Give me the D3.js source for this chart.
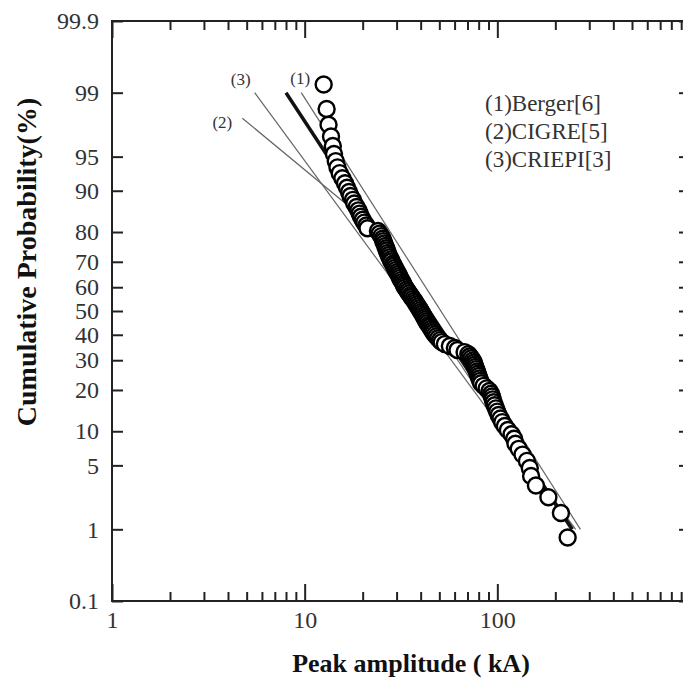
<!DOCTYPE html>
<html>
<head>
<meta charset="utf-8">
<script src="https://cdn.jsdelivr.net/npm/d3@7"></script>
<style>
  html, body { margin: 0; padding: 0; background: #fff; overflow: hidden; }
  svg { display: block; }
</style>
</head>
<body>
<svg id="chart" width="683" height="684"></svg>
<script>
// observed peak amplitudes (kA) and their cumulative probability (%)
const amplitude = [
  12.55, 13.0, 13.3, 13.7, 14.0, 14.2, 14.5, 14.8, 15.2, 15.7,
  16.2, 16.6, 17.0, 17.3, 17.8, 18.1, 18.6, 19.0, 19.3, 19.6,
  20.0, 20.4, 20.9, 21.2, 24.0, 24.5, 25.0, 25.4, 25.6, 25.9,
  26.2, 26.5, 26.7, 27.0, 27.3, 27.6, 28.0, 28.2, 28.7, 29.0,
  29.4, 29.8, 30.2, 30.6, 31.0, 31.3, 31.7, 32.1, 32.5, 32.8,
  33.2, 33.8, 34.3, 34.8, 35.4, 35.9, 36.5, 37.1, 37.6, 38.1,
  38.7, 39.2, 39.8, 40.3, 40.8, 41.3, 41.8, 42.3, 42.8, 43.4,
  44.1, 44.7, 45.3, 46.0, 46.6, 47.4, 48.3, 49.3, 50.4, 51.4,
  53.4, 56.7, 60.2, 62.1, 67.6, 70.7, 72.0, 73.3, 74.6, 75.5,
  76.2, 76.9, 77.6, 78.4, 79.1, 80.0, 80.7, 81.5, 82.5, 84.9,
  88.0, 91.0, 92.8, 93.8, 94.6, 95.6, 96.9, 98.4, 99.9, 101.6,
  103.9, 106.1, 109.4, 113.4, 118.6, 122.3, 124.2, 129.1, 135.1, 142.4,
  147.4, 149.7, 158.6, 184.1, 213.8, 231.7
]
const probability = [
  99.21, 98.43, 97.64, 96.85, 96.06, 95.28, 94.49, 93.70, 92.91, 92.13,
  91.34, 90.55, 89.76, 88.98, 88.19, 87.40, 86.61, 85.83, 85.04, 84.25,
  83.46, 82.68, 81.89, 81.10, 80.31, 79.53, 78.74, 77.95, 77.17, 76.38,
  75.59, 74.80, 74.02, 73.23, 72.44, 71.65, 70.87, 70.08, 69.29, 68.50,
  67.72, 66.93, 66.14, 65.35, 64.57, 63.78, 62.99, 62.20, 61.42, 60.63,
  59.84, 59.06, 58.27, 57.48, 56.69, 55.91, 55.12, 54.33, 53.54, 52.76,
  51.97, 51.18, 50.39, 49.61, 48.82, 48.03, 47.24, 46.46, 45.67, 44.88,
  44.09, 43.31, 42.52, 41.73, 40.94, 40.16, 39.37, 38.58, 37.80, 37.01,
  36.22, 35.43, 34.65, 33.86, 33.07, 32.28, 31.50, 30.71, 29.92, 29.13,
  28.35, 27.56, 26.77, 25.98, 25.20, 24.41, 23.62, 22.83, 22.05, 21.26,
  20.47, 19.69, 18.90, 18.11, 17.32, 16.54, 15.75, 14.96, 14.17, 13.39,
  12.60, 11.81, 11.02, 10.24, 9.45, 8.66, 7.87, 7.09, 6.30, 5.51,
  4.72, 3.94, 3.15, 2.36, 1.57, 0.79
]

// reference distributions, as (kA, %) vertices
const fitAmp = [8.0, 245]
const fitProb = [99, 1]
const bergerAmp = [9.6, 270]
const bergerProb = [99, 1]
const cigreAmp = [4.75, 20, 240]
const cigreProb = [98, 84, 1]
const criepiAmp = [5.5, 255]
const criepiProb = [99, 1]

const legendLabels = ['(1)Berger[6]', '(2)CIGRE[5]', '(3)CRIEPI[3]']
const yTicks = [0.1, 1, 5, 10, 20, 30, 40, 50, 60, 70, 80, 90, 95, 99, 99.9]
const xMajor = [1, 10, 100, 1000]
const xMinor = [2,3,4,5,6,7,8,9,20,30,40,50,60,70,80,90,200,300,400,500,600,700,800,900]

// inverse normal cdf (Acklam)
function probit(p) {
  const a = [-39.69683028665376, 220.9460984245205, -275.9285104469687, 138.3577518672690, -30.66479806614716, 2.506628277459239]
  const b = [-54.47609879822406, 161.5858368580409, -155.6989798598866, 66.80131188771972, -13.28068155288572]
  const c = [-0.007784894002430293, -0.3223964580411365, -2.400758277161838, -2.549732539343734, 4.374664141464968, 2.938163982698783]
  const d = [0.007784695709041462, 0.3224671290700398, 2.445134137142996, 3.754408661907416]
  const pl = 0.02425
  let q, r
  if (p < pl) {
    q = Math.sqrt(-2 * Math.log(p))
    return (((((c[0]*q+c[1])*q+c[2])*q+c[3])*q+c[4])*q+c[5]) / ((((d[0]*q+d[1])*q+d[2])*q+d[3])*q+1)
  }
  if (p > 1 - pl) {
    q = Math.sqrt(-2 * Math.log(1 - p))
    return -(((((c[0]*q+c[1])*q+c[2])*q+c[3])*q+c[4])*q+c[5]) / ((((d[0]*q+d[1])*q+d[2])*q+d[3])*q+1)
  }
  q = p - 0.5
  r = q * q
  return (((((a[0]*r+a[1])*r+a[2])*r+a[3])*r+a[4])*r+a[5])*q / (((((b[0]*r+b[1])*r+b[2])*r+b[3])*r+b[4])*r+1)
}

const svg = d3.select('#chart')
const margin = {top: 21, left: 112}
const plotW = 578
const plotH = 580

const x = d3.scaleLog().domain([1, 1000]).range([margin.left, margin.left + plotW])
const yz = d3.scaleLinear().domain([probit(0.001), probit(0.999)]).range([margin.top + plotH, margin.top])
const y = p => yz(probit(p / 100))

const serif = '"Liberation Serif", "Times New Roman", serif'
const ink = '#222'

// lines first, circles cover them
const line = d3.line().x(d => x(d[0])).y(d => y(d[1]))
const refs = [
  {amp: cigreAmp, prob: cigreProb, w: 1.2, c: '#666', label: '(2)', dx: -20, dy: 10},
  {amp: criepiAmp, prob: criepiProb, w: 1.2, c: '#666', label: '(3)', dx: -14, dy: -8},
  {amp: bergerAmp, prob: bergerProb, w: 1.2, c: '#666', label: '(1)', dx: -1, dy: -9},
  {amp: fitAmp, prob: fitProb, w: 3.5, c: '#111', label: null}
]
refs.forEach(r => {
  const pts = r.amp.map((a, i) => [a, r.prob[i]])
  svg.append('path')
    .datum(pts)
    .attr('fill', 'none')
    .attr('stroke', r.c)
    .attr('stroke-width', r.w)
    .attr('d', line)
  if (r.label) {
    svg.append('text')
      .attr('x', x(pts[0][0]) + r.dx)
      .attr('y', y(pts[0][1]) + r.dy)
      .attr('text-anchor', 'middle')
      .attr('font-family', serif)
      .attr('font-size', 17)
      .attr('fill', '#333')
      .text(r.label)
  }
})

svg.append('g')
  .selectAll('circle')
  .data(amplitude.map((a, i) => [a, probability[i]]))
  .join('circle')
  .attr('cx', d => x(d[0]))
  .attr('cy', d => y(d[1]))
  .attr('r', 8)
  .attr('fill', '#fff')
  .attr('stroke', '#000')
  .attr('stroke-width', 2.4)

// frame
svg.append('rect')
  .attr('x', margin.left).attr('y', margin.top)
  .attr('width', plotW).attr('height', plotH)
  .attr('fill', 'none').attr('stroke', ink).attr('stroke-width', 2)

const styleAxis = g => {
  g.select('.domain').remove()
  g.selectAll('line').attr('stroke', ink).attr('stroke-width', 2)
  g.selectAll('text').attr('font-family', serif).attr('font-size', 24).attr('fill', '#333')
}

const bottom = margin.top + plotH
svg.append('g').attr('transform', `translate(0,${bottom})`)
  .call(d3.axisBottom(x).tickValues(xMinor).tickSize(-9).tickFormat(''))
  .call(styleAxis)
svg.append('g').attr('transform', `translate(0,${bottom})`)
  .call(d3.axisBottom(x).tickValues(xMajor.slice(0, 3)).tickSize(-17).tickPadding(10).tickFormat(d3.format('d')))
  .call(styleAxis)
svg.append('g').attr('transform', `translate(0,${margin.top})`)
  .call(d3.axisTop(x).tickValues(xMinor).tickSize(-9).tickFormat(''))
  .call(styleAxis)
svg.append('g').attr('transform', `translate(0,${margin.top})`)
  .call(d3.axisTop(x).tickValues(xMajor).tickSize(-17).tickFormat(''))
  .call(styleAxis)

const yAxisL = d3.axisLeft(yz)
  .tickValues(yTicks.map(p => probit(p / 100)))
  .tickFormat((d, i) => yTicks[i])
  .tickSize(-11).tickPadding(13)
svg.append('g').attr('transform', `translate(${margin.left},0)`)
  .call(yAxisL).call(styleAxis)
svg.append('g').attr('transform', `translate(${margin.left + plotW},0)`)
  .call(d3.axisRight(yz).tickValues(yTicks.map(p => probit(p / 100))).tickSize(-11).tickFormat(''))
  .call(styleAxis)

// axis titles
svg.append('text')
  .attr('x', 411).attr('y', 672)
  .attr('text-anchor', 'middle')
  .attr('font-family', serif).attr('font-weight', 'bold').attr('font-size', 26)
  .attr('fill', '#111')
  .text('Peak amplitude ( kA)')
svg.append('text')
  .attr('transform', 'translate(36,262) rotate(-90)')
  .attr('text-anchor', 'middle')
  .attr('font-family', serif).attr('font-weight', 'bold').attr('font-size', 28)
  .attr('fill', '#111')
  .text('Cumulative Probability(%)')

// legend
svg.append('g')
  .selectAll('text')
  .data(legendLabels)
  .join('text')
  .attr('x', 485)
  .attr('y', (d, i) => 111 + i * 28)
  .attr('font-family', serif).attr('font-size', 23)
  .attr('fill', '#333')
  .text(d => d)
</script>
</body>
</html>
